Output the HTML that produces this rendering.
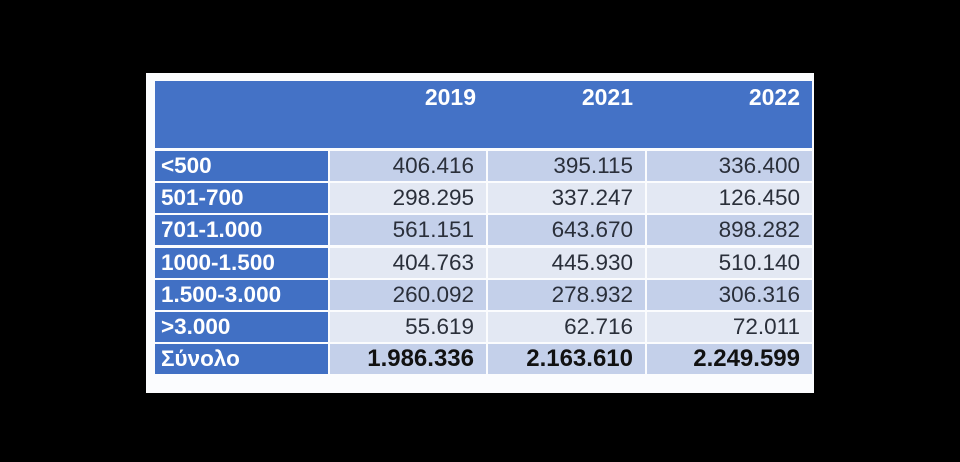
<!DOCTYPE html>
<html><head><style>
body{margin:0;width:960px;height:462px;background:#000;position:relative;overflow:hidden;font-family:"Liberation Sans",sans-serif}
.card{position:absolute;left:146px;top:73px;width:668px;height:320px;background:#fbfcfe}
.hdr{position:absolute;left:155px;top:81px;width:657px;height:67px;background:#4472c6}
.c{position:absolute;box-sizing:border-box;height:30px;line-height:30px;font-size:22.5px}
.l{background:#4170c4;color:#fff;font-weight:bold;padding-left:6px}
.d{text-align:right;padding-right:12px;color:#2a2f3a}
.a{background:#c4d0ea}.b{background:#e3e8f3}
.y{position:absolute;top:84px;color:#fff;font-weight:bold;font-size:23px;text-align:right}
</style></head><body>
<div class="card"></div>
<div class="hdr"></div>
<div class="y" style="left:330px;width:146px">2019</div>
<div class="y" style="left:488px;width:145px">2021</div>
<div class="y" style="left:647px;width:153px">2022</div>
<div id="t"></div>
<script>
var rows=[["<500","406.416","395.115","336.400"],["501-700","298.295","337.247","126.450"],["701-1.000","561.151","643.670","898.282"],["1000-1.500","404.763","445.930","510.140"],["1.500-3.000","260.092","278.932","306.316"],[">3.000","55.619","62.716","72.011"],["Σύνολο","1.986.336","2.163.610","2.249.599"]];
var xs=[[155,173],[330,156],[488,157],[647,165]];var h="";
rows.forEach(function(r,i){var top=151+i*32.2;var cls=i%2?"b":"a";
r.forEach(function(v,j){var s=j==0?"l":"d "+cls;var st=i==6&&j>0?"font-weight:bold;color:#111;font-size:24px;":"";
h+='<div class="c '+s+'" style="'+st+'left:'+xs[j][0]+'px;top:'+top+'px;width:'+xs[j][1]+'px">'+v.replace("<","&lt;")+'</div>';});});
document.getElementById("t").innerHTML=h;
</script>
</body></html>
